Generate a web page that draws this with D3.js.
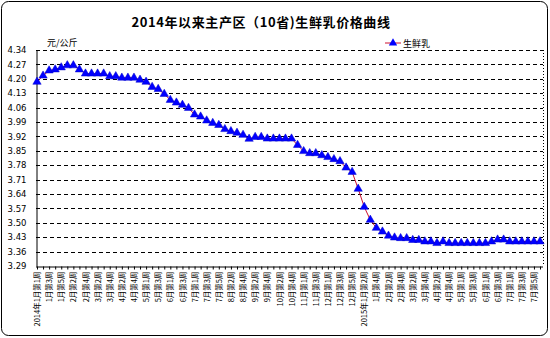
<!DOCTYPE html>
<html><head><meta charset="utf-8">
<script src="https://cdn.jsdelivr.net/npm/d3@7"></script>
<style>body{margin:0;background:#fff}svg{display:block}</style>
</head><body>
<svg id="c" width="550" height="338"></svg>
<script>
const title = "2014年以来主产区（10省)生鲜乳价格曲线";
const unitLabel = "元/公斤";
const seriesName = "生鲜乳";
const categories = [
"2014年1月第1周","1月第2周","1月第3周","1月第4周","1月第5周",
"2月第1周","2月第2周","2月第3周","2月第4周",
"3月第1周","3月第2周","3月第3周","3月第4周",
"4月第1周","4月第2周","4月第3周","4月第4周","4月第5周",
"5月第1周","5月第2周","5月第3周","5月第4周",
"6月第1周","6月第2周","6月第3周","6月第4周",
"7月第1周","7月第2周","7月第3周","7月第4周","7月第5周",
"8月第1周","8月第2周","8月第3周","8月第4周",
"9月第1周","9月第2周","9月第3周","9月第4周",
"10月第1周","10月第2周","10月第3周","10月第4周","10月第5周",
"11月第1周","11月第2周","11月第3周","11月第4周",
"12月第1周","12月第2周","12月第3周","12月第4周","12月第5周",
"2015年1月第1周","2015年1月第2周","1月第3周","1月第4周",
"2月第1周","2月第2周","2月第3周","2月第4周",
"3月第1周","3月第2周","3月第3周","3月第4周",
"4月第1周","4月第2周","4月第3周","4月第4周","4月第5周",
"5月第1周","5月第2周","5月第3周","5月第4周",
"6月第1周","6月第2周","6月第3周","6月第4周",
"7月第1周","7月第2周","7月第3周","7月第4周","7月第5周",
"8月第1周"
];
const prices = [
4.185,4.215,4.24,4.245,4.255,4.265,4.265,4.245,4.225,4.225,
4.225,4.225,4.212,4.212,4.205,4.205,4.205,4.195,4.185,4.16,
4.15,4.126,4.097,4.084,4.073,4.058,4.026,4.016,3.997,3.985,
3.975,3.955,3.945,3.937,3.927,3.908,3.917,3.917,3.909,3.909,
3.909,3.909,3.909,3.878,3.848,3.838,3.838,3.828,3.819,3.809,
3.799,3.768,3.747,3.665,3.577,3.514,3.475,3.457,3.437,3.428,
3.425,3.425,3.416,3.416,3.409,3.409,3.401,3.409,3.401,3.401,
3.401,3.401,3.401,3.401,3.401,3.409,3.418,3.418,3.409,3.409,
3.409,3.409,3.409,3.409
];
const yTicks = [4.34,4.27,4.20,4.13,4.06,3.99,3.92,3.85,3.78,3.71,3.64,3.57,3.50,3.43,3.36,3.29];

const svg = d3.select("#c");
const L = 36, R = 543, T = 50, B = 266;
const x = d3.scaleLinear().domain([0, categories.length - 1]).range([37, 540]);
const y = d3.scaleLinear().domain([3.29, 4.34]).range([B, T]);

// outer border
svg.append("rect").attr("x",1.5).attr("y",1.5).attr("width",546).attr("height",334)
  .attr("rx",7).attr("fill","#fff").attr("stroke","#000").attr("stroke-width",1);

// title
svg.append("text").attr("x",261).attr("y",27).attr("text-anchor","middle")
  .attr("font-family","'Noto Sans CJK SC', sans-serif").attr("font-weight","bold")
  .attr("font-size",13).attr("letter-spacing",0.6).text(title);

// unit
svg.append("text").attr("x",47).attr("y",46)
  .attr("font-family","'Noto Sans CJK SC', sans-serif").attr("font-size",9).text(unitLabel);

// gridlines
svg.append("g").selectAll("line").data(yTicks.slice(0, -1)).join("line")
  .attr("x1",L).attr("x2",R).attr("y1",d=>Math.round(y(d))+0.5).attr("y2",d=>Math.round(y(d))+0.5)
  .attr("stroke","#000").attr("stroke-width",1).attr("stroke-dasharray","4,3");

// right dotted border
svg.append("line").attr("x1",R+0.5).attr("x2",R+0.5).attr("y1",T).attr("y2",B)
  .attr("stroke","#000").attr("stroke-dasharray","1,2");

// y axis
const yAxis = d3.axisLeft(y).tickValues(yTicks).tickSize(0).tickPadding(10)
  .tickFormat(d3.format(".2f"));
const gy = svg.append("g").attr("transform",`translate(${L+0.5},0)`).call(yAxis);
gy.select(".domain").attr("stroke","#000");
gy.selectAll("text").attr("font-family","'DejaVu Sans', sans-serif").attr("font-size",8.5)
  .attr("fill","#000");

// x axis
const xAxis = d3.axisBottom(x).tickValues(d3.range(categories.length)).tickSize(3)
  .tickFormat(i => i % 2 === 0 ? categories[i] : "");
const gx = svg.append("g").attr("transform",`translate(0,${B+0.5})`).call(xAxis);
gx.select(".domain").attr("d",`M${L},0.5H${R}`).attr("stroke","#000");
gx.selectAll(".tick line").attr("stroke","#000");
gx.selectAll("text").attr("font-family","'Noto Sans CJK SC', sans-serif").attr("font-size",7.5)
  .attr("fill","#000").attr("text-anchor","end").attr("dy","0.35em")
  .attr("transform","translate(0,1) rotate(-90)").attr("x",-4).attr("y",0);

// line
const line = d3.line().x((d,i)=>x(i)).y(d=>y(d));
svg.append("path").datum(prices).attr("d",line).attr("fill","none")
  .attr("stroke","#cc1030").attr("stroke-width",1);

// markers
const tri = d3.symbol().type(d3.symbolTriangle).size(30);
svg.append("g").selectAll("path").data(prices).join("path")
  .attr("d",tri).attr("transform",(d,i)=>`translate(${x(i)},${y(d)})`)
  .attr("fill","#0000ff").attr("stroke","#0000cc").attr("stroke-width",0.5);

// legend
const lg = svg.append("g").attr("transform","translate(385,43)");
lg.append("line").attr("x1",0).attr("x2",16).attr("y1",0).attr("y2",0)
  .attr("stroke","#cc1030").attr("stroke-width",1);
lg.append("path").attr("d",tri).attr("transform","translate(8,0)").attr("fill","#0000ff");
lg.append("text").attr("x",18).attr("y",3.5).attr("font-family","'Noto Sans CJK SC', sans-serif")
  .attr("font-size",9).text(seriesName);
</script>
</body></html>
